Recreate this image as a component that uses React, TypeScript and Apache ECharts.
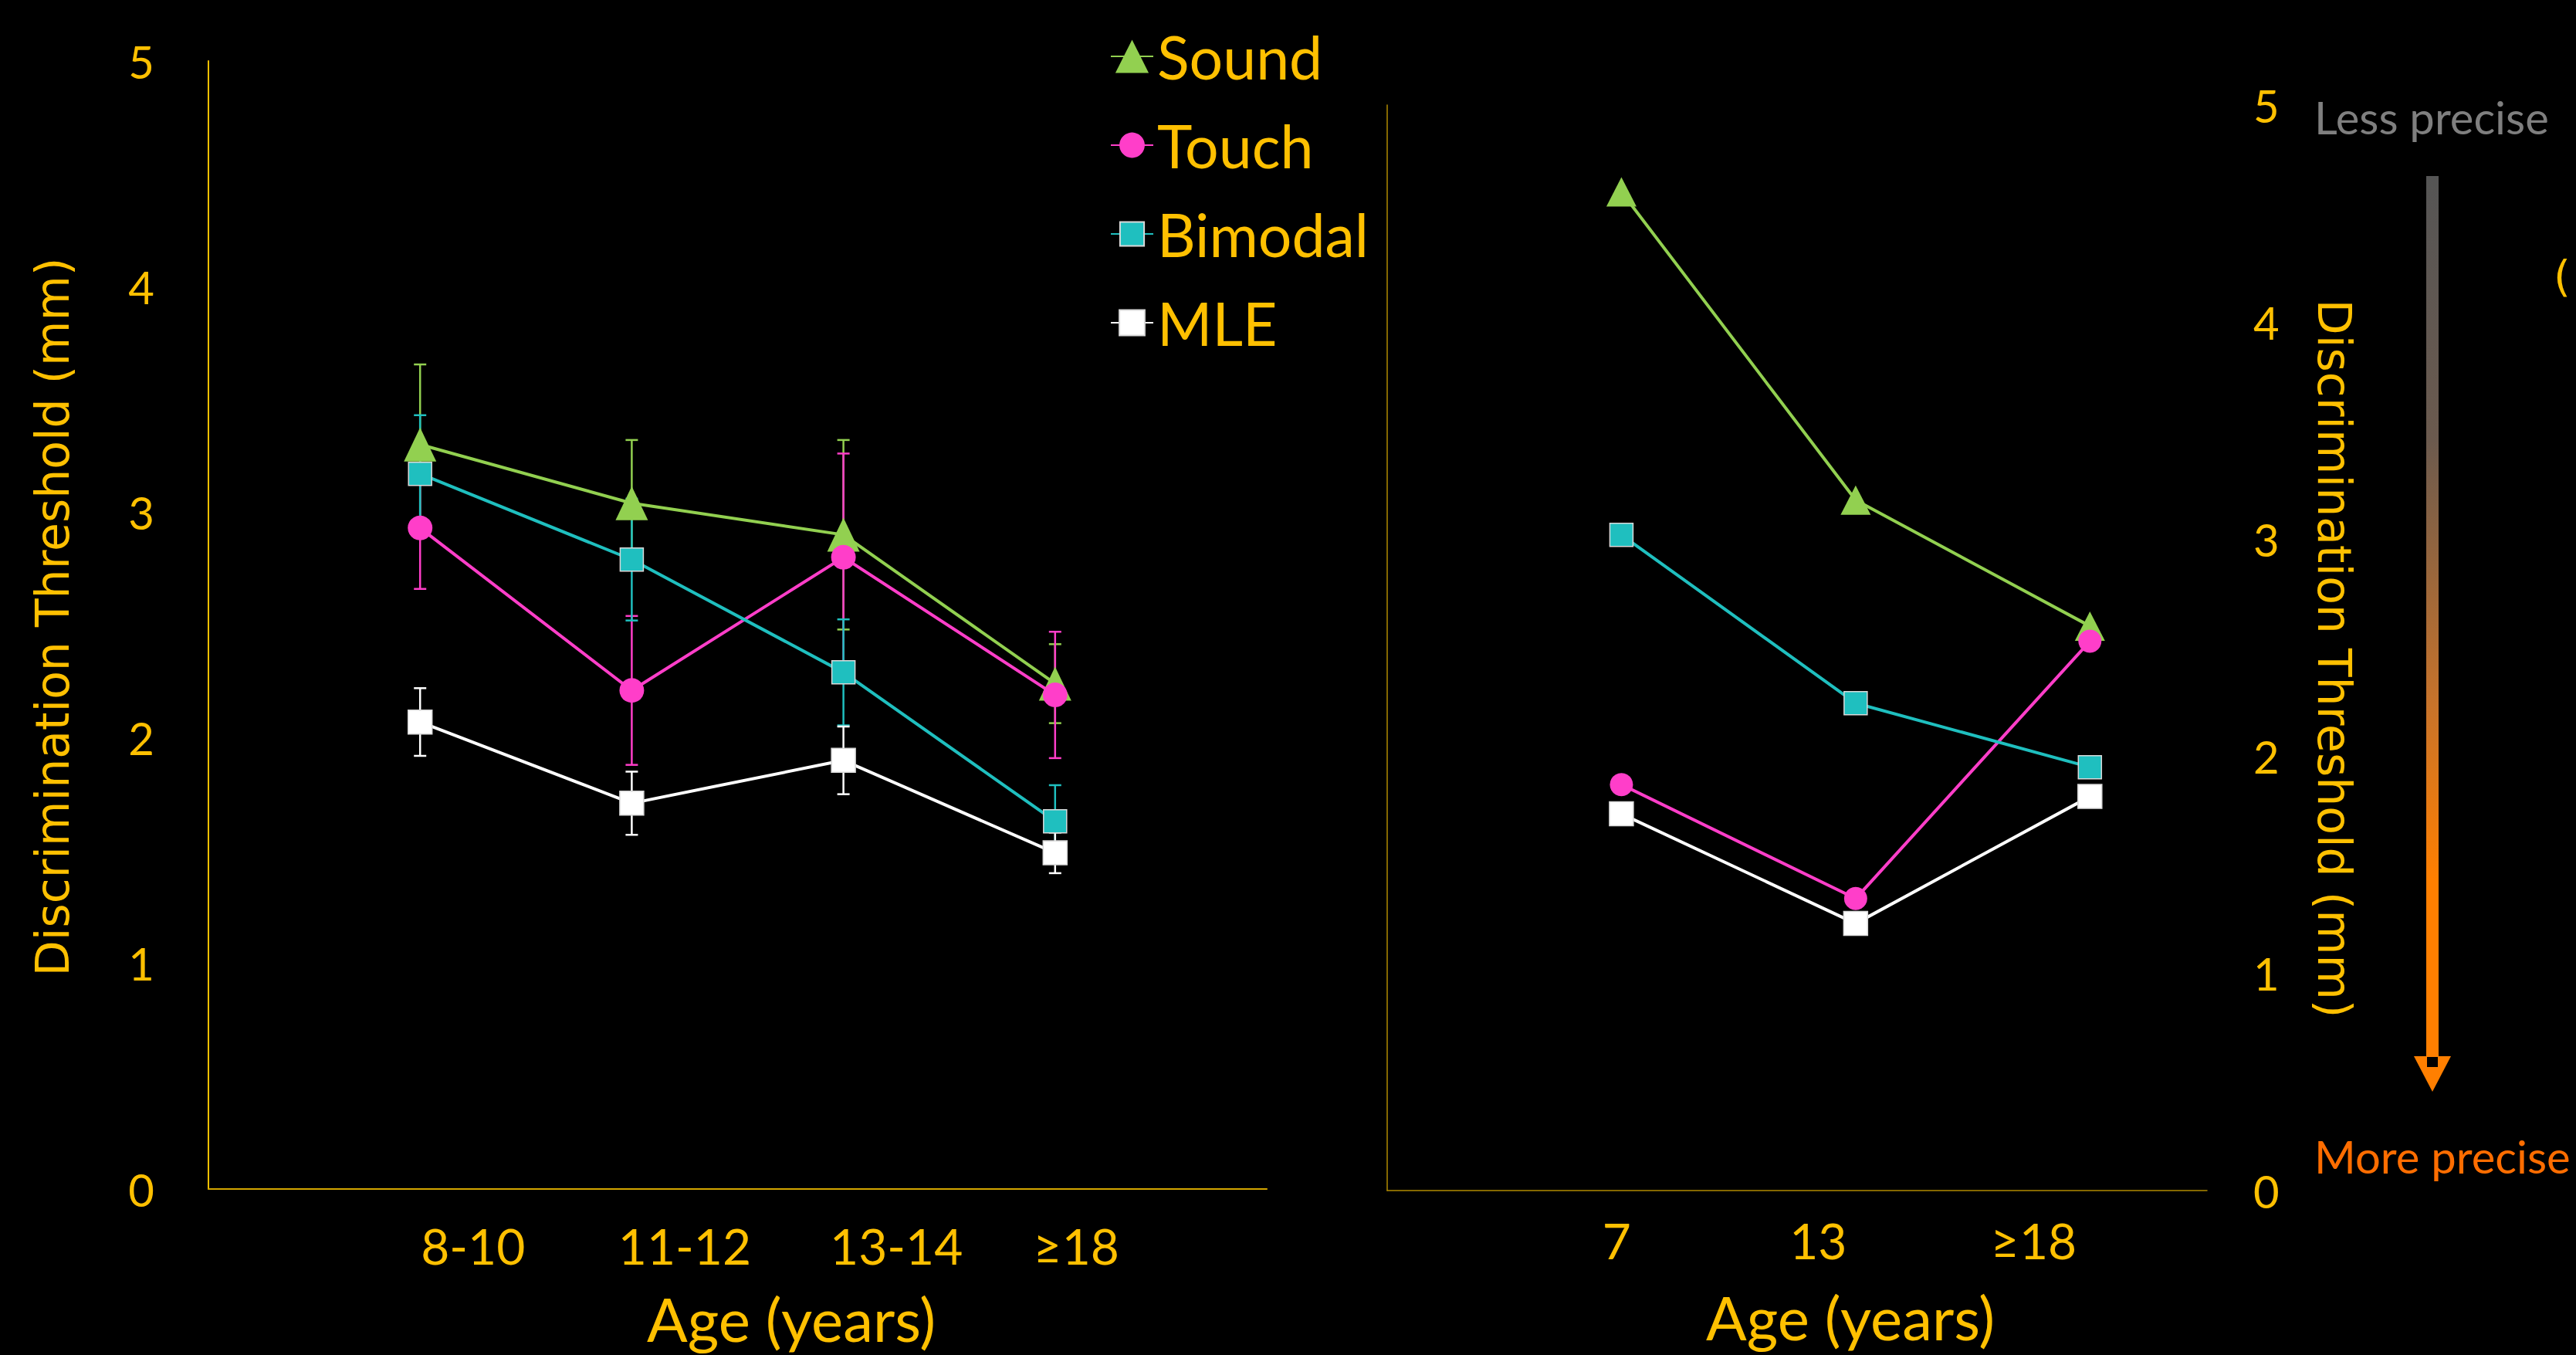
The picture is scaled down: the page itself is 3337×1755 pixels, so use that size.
import React, { useEffect, useRef } from "react";
import * as echarts from "echarts";

// ---------- data ----------
const leftCategories = ["8-10", "11-12", "13-14", "≥18"];
const rightCategories = ["7", "13", "≥18"];
const seriesNames = ["Sound", "Touch", "Bimodal", "MLE"];
const yTicks = [0, 1, 2, 3, 4, 5];

const leftSound = [3.3, 3.04, 2.9, 2.24];
const leftTouch = [2.93, 2.21, 2.8, 2.19];
const leftBimodal = [3.17, 2.79, 2.29, 1.63];
const leftMLE = [2.07, 1.71, 1.9, 1.49];

const leftSoundErr = [0.355, 0.28, 0.42, 0.175];
const leftTouchErr = [0.27, 0.33, 0.46, 0.28];
const leftBimodalErr = [0.26, 0.27, 0.235, 0.16];
const leftMLEErr = [0.15, 0.14, 0.15, 0.09];

const rightSound = [4.6, 3.18, 2.6];
const rightTouch = [1.87, 1.345, 2.53];
const rightBimodal = [3.02, 2.245, 1.95];
const rightMLE = [1.735, 1.23, 1.815];

// ---------- layout / style ----------
const GOLD = "#ffc000";
const COLORS = ["#92d050", "#ff3ec9", "#1fbfbf", "#ffffff"];
const SYMBOLS = ["triangle", "circle", "rect", "rect"];
const LEFT_SIZES: any[] = [[42, 44], 32, 30, 31];
const RIGHT_SIZES: any[] = [[39, 38], 30, 30, 31];
const LEFT_LABEL_POS = [1.25, 2.25, 3.25, 4.1];
const RIGHT_LABEL_POS = [1.96, 3.68, 5.52];
const LEGEND_CENTERS = [73, 188, 303, 418];
const LEGEND_ICON_H = [54, 41, 39, 41];
const FONT = "Lato, 'Open Sans', sans-serif";
const TITLE_FONT = "'DejaVu Sans', Verdana, sans-serif";

const leftVals = [leftSound, leftTouch, leftBimodal, leftMLE];
const leftErrs = [leftSoundErr, leftTouchErr, leftBimodalErr, leftMLEErr];
const rightVals = [rightSound, rightTouch, rightBimodal, rightMLE];

function labelFor(pos: number[], names: string[]) {
  return (v: number) => {
    for (let i = 0; i < pos.length; i++) if (Math.abs(pos[i] - v) < 1e-6) return names[i];
    return "";
  };
}

function errRender(color: string) {
  return (params: any, api: any) => {
    const x = api.value(0);
    const lo = api.value(1);
    const hi = api.value(2);
    const pLo = api.coord([x, lo]);
    const pHi = api.coord([x, hi]);
    const cap = 8;
    const style = { stroke: color, lineWidth: 2.5 };
    return {
      type: "group",
      children: [
        { type: "line", shape: { x1: pLo[0], y1: pLo[1], x2: pHi[0], y2: pHi[1] }, style },
        { type: "line", shape: { x1: pLo[0] - cap, y1: pLo[1], x2: pLo[0] + cap, y2: pLo[1] }, style },
        { type: "line", shape: { x1: pHi[0] - cap, y1: pHi[1], x2: pHi[0] + cap, y2: pHi[1] }, style },
      ],
    };
  };
}

export default function App() {
  const ref = useRef<HTMLDivElement>(null);
  useEffect(() => {
    const chart = echarts.init(ref.current!, null, { renderer: "svg" });

    const yAxisCommon = {
      type: "value",
      min: yTicks[0],
      max: yTicks[yTicks.length - 1],
      interval: 1,
      splitLine: { show: false },
      axisTick: { show: false },
    };

    const series: any[] = [];
    // lines (left)
    seriesNames.forEach((name, i) => {
      series.push({
        type: "line",
        name: name,
        xAxisIndex: 0,
        yAxisIndex: 0,
        z: 2,
        symbol: SYMBOLS[i],
        symbolSize: LEFT_SIZES[i],
        showAllSymbol: true,
        color: COLORS[i],
        lineStyle: { width: 4, color: COLORS[i] },
        itemStyle: {
          color: COLORS[i],
          borderColor: i >= 2 ? "#d9d9d9" : COLORS[i],
          borderWidth: i >= 2 ? 1.5 : 0,
        },
        data: leftVals[i].map((v, k) => [k + 1, v]),
      });
    });
    // error bars (left)
    seriesNames.forEach((name, i) => {
      series.push({
        type: "custom",
        name: name + " error",
        xAxisIndex: 0,
        yAxisIndex: 0,
        z: 1,
        silent: true,
        renderItem: errRender(COLORS[i]),
        encode: { x: 0, y: [1, 2] },
        data: leftVals[i].map((v, k) => [k + 1, v - leftErrs[i][k], v + leftErrs[i][k]]),
      });
    });
    // lines (right)
    seriesNames.forEach((name, i) => {
      series.push({
        type: "line",
        name: name,
        xAxisIndex: 1,
        yAxisIndex: 1,
        z: 2,
        symbol: SYMBOLS[i],
        symbolSize: RIGHT_SIZES[i],
        color: COLORS[i],
        lineStyle: { width: 4, color: COLORS[i] },
        itemStyle: {
          color: COLORS[i],
          borderColor: i >= 2 ? "#d9d9d9" : COLORS[i],
          borderWidth: i >= 2 ? 1.5 : 0,
        },
        data: rightVals[i].map((v, k) => [2 * (k + 1), v]),
      });
    });

    const option: any = {
      animation: false,
      backgroundColor: "#000000",
      grid: [
        { left: 270, top: 79, width: 1371, height: 1461 },
        { left: 1797, top: 136, width: 1062, height: 1406 },
      ],
      xAxis: [
        {
          type: "value",
          gridIndex: 0,
          min: 0,
          max: 5,
          splitLine: { show: false },
          axisTick: { show: false },
          axisLine: { lineStyle: { color: "#d4a600", width: 2 } },
          axisLabel: {
            customValues: LEFT_LABEL_POS,
            formatter: labelFor(LEFT_LABEL_POS, leftCategories),
            color: GOLD,
            fontFamily: FONT,
            fontSize: 64,
            verticalAlign: "middle",
            margin: 73,
          },
        },
        {
          type: "value",
          gridIndex: 1,
          min: 0,
          max: 7,
          splitLine: { show: false },
          axisTick: { show: false },
          axisLine: { lineStyle: { color: "#b08a00", width: 1.5 } },
          axisLabel: {
            customValues: RIGHT_LABEL_POS,
            formatter: labelFor(RIGHT_LABEL_POS, rightCategories),
            color: GOLD,
            fontFamily: FONT,
            fontSize: 64,
            verticalAlign: "middle",
            margin: 64,
          },
        },
      ],
      yAxis: [
        {
          ...yAxisCommon,
          gridIndex: 0,
          axisLine: { show: true, lineStyle: { color: GOLD, width: 2 } },
          axisLabel: {
            color: GOLD,
            fontFamily: FONT,
            fontSize: 58,
            margin: 70,
            padding: [10, 0, 0, 0],
          },
        },
        {
          ...yAxisCommon,
          gridIndex: 1,
          position: "right",
          axisLine: { show: true, lineStyle: { color: "#b08a00", width: 1.5 } },
          axisLabel: {
            color: GOLD,
            fontFamily: FONT,
            fontSize: 58,
            margin: 60,
            padding: [10, 0, 0, 0],
          },
        },
      ],
      legend: seriesNames.map((n, i) => ({
        data: [n],
        orient: "vertical",
        left: 1438,
        top: LEGEND_CENTERS[i] - 40,
        padding: 0,
        itemWidth: 55,
        itemHeight: LEGEND_ICON_H[i],
        selectedMode: false,
        textStyle: { color: GOLD, fontFamily: FONT, fontSize: 77, lineHeight: 80 },
      })),
      graphic: [
        {
          type: "text",
          x: 68,
          y: 799,
          rotation: Math.PI / 2,
          style: {
            text: "Discrimination Threshold (mm)",
            fill: GOLD,
            font: `60px ${TITLE_FONT}`,
            align: "center",
            verticalAlign: "middle",
          },
        },
        {
          type: "text",
          x: 3024,
          y: 853,
          rotation: -Math.PI / 2,
          style: {
            text: "Discrimination Threshold (mm)",
            fill: GOLD,
            font: `60px ${TITLE_FONT}`,
            align: "center",
            verticalAlign: "middle",
          },
        },
        {
          type: "text",
          x: 1025,
          y: 1708,
          style: { text: "Age (years)", fill: GOLD, font: `78px ${FONT}`, align: "center", verticalAlign: "middle" },
        },
        {
          type: "text",
          x: 2397,
          y: 1706,
          style: { text: "Age (years)", fill: GOLD, font: `78px ${FONT}`, align: "center", verticalAlign: "middle" },
        },
        {
          type: "text",
          x: 2998,
          y: 151,
          style: { text: "Less precise", fill: "#7f7f7f", font: `58px ${FONT}`, align: "left", verticalAlign: "middle" },
        },
        {
          type: "text",
          x: 2998,
          y: 1497,
          style: { text: "More precise", fill: "#ff6d00", font: `58px ${FONT}`, align: "left", verticalAlign: "middle" },
        },
        {
          type: "text",
          x: 3308,
          y: 357,
          style: { text: "(", fill: GOLD, font: `56px ${TITLE_FONT}`, align: "left", verticalAlign: "middle" },
        },
        {
          type: "rect",
          shape: { x: 3143, y: 228, width: 16, height: 1141 },
          style: {
            fill: new echarts.graphic.LinearGradient(0, 0, 0, 1, [
              { offset: 0, color: "#555555" },
              { offset: 0.3, color: "#6b5a4e" },
              { offset: 0.6, color: "#c8732a" },
              { offset: 0.8, color: "#ff7f00" },
              { offset: 1, color: "#ff7f00" },
            ]),
          },
        },
        {
          type: "polygon",
          shape: { points: [[3127, 1368], [3175, 1368], [3151, 1414]] },
          style: { fill: "#ff7f00" },
        },
        {
          type: "rect",
          shape: { x: 3144, y: 1369, width: 14, height: 13 },
          style: { fill: "#000000" },
        },
      ],
      series,
    };

    chart.setOption(option);
    return () => chart.dispose();
  }, []);
  return (
    <div
      ref={ref}
      style={{ position: "fixed", left: 0, top: 0, width: 3337, height: 1755, background: "#000" }}
    />
  );
}
